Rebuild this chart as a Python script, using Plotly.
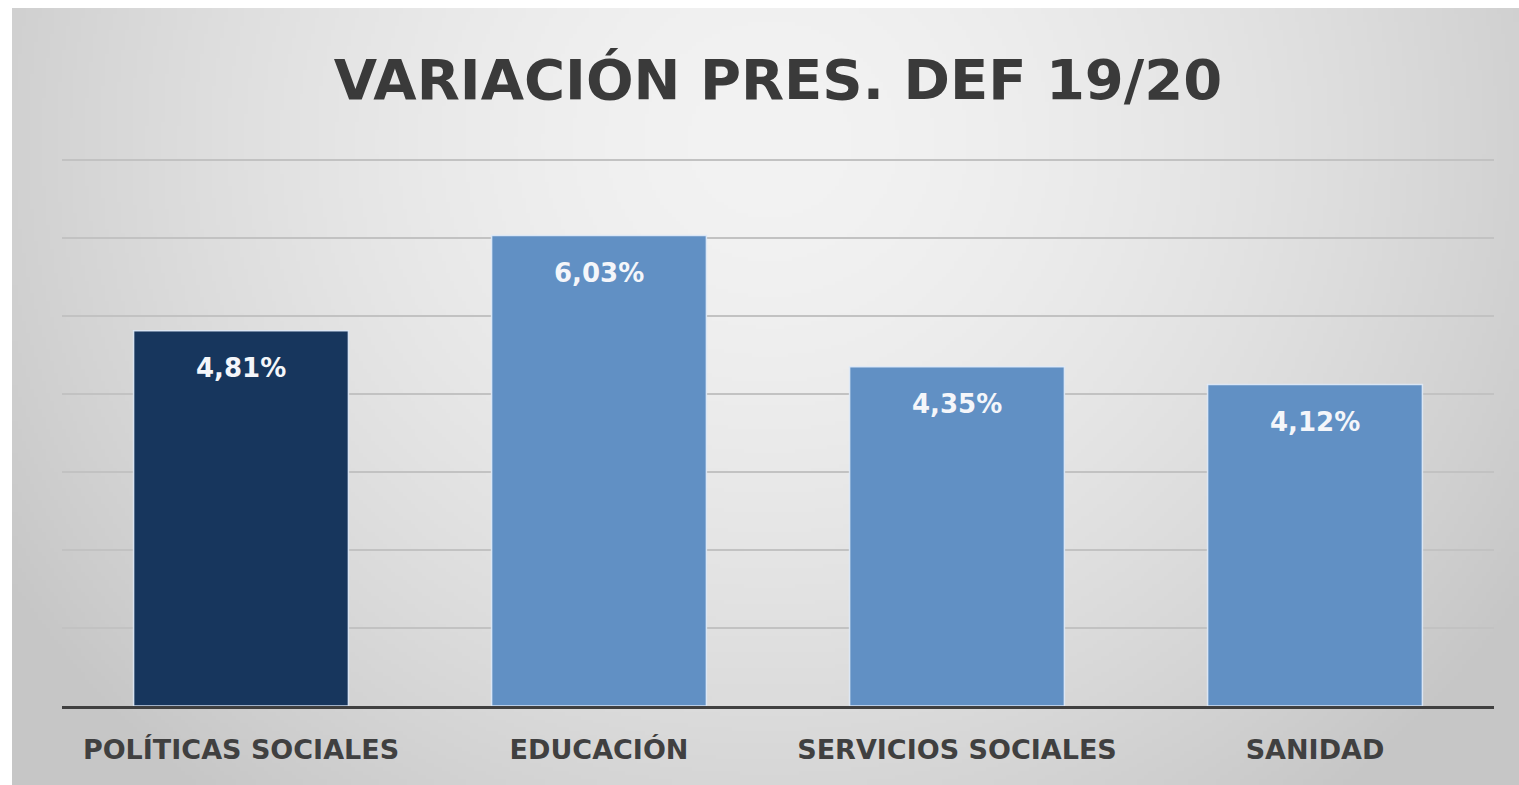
import base64, struct, zlib
import numpy as np
import plotly.graph_objects as go

# ---- data ----
categories = ["POLÍTICAS SOCIALES", "EDUCACIÓN", "SERVICIOS SOCIALES", "SANIDAD"]
values = [4.81, 6.03, 4.35, 4.12]
labels = ["4,81%", "6,03%", "4,35%", "4,12%"]
bar_colors = ["#17365d", "#6190c4", "#6190c4", "#6190c4"]
title_text = "VARIACIÓN PRES. DEF 19/20"

# ---- canvas geometry ----
W, H = 1519, 785
Y_MAX = 7.05
ML, MR, MT, MB = 62, 25, 156, 79
PW, PH = W - ML - MR, H - MT - MB
BG_X0, BG_Y0 = 12, 8
FONT = "DejaVu Sans"


def make_png(arr):
    h, w, _ = arr.shape
    raw = b"".join(b"\x00" + arr[i].tobytes() for i in range(h))
    def chunk(tag, data):
        c = struct.pack(">I", len(data)) + tag + data
        return c + struct.pack(">I", zlib.crc32(tag + data) & 0xffffffff)
    png = b"\x89PNG\r\n\x1a\n"
    png += chunk(b"IHDR", struct.pack(">IIBBBBB", w, h, 8, 2, 0, 0, 0))
    png += chunk(b"IDAT", zlib.compress(raw, 9))
    png += chunk(b"IEND", b"")
    return "data:image/png;base64," + base64.b64encode(png).decode()


# radial gray gradient background
gw, gh = 380, 195
bw, bh = W - BG_X0, H - BG_Y0
xs = np.linspace(BG_X0, W, gw)
ys = np.linspace(BG_Y0, H, gh)
X, Y = np.meshgrid(xs, ys)
cx, cy, rx, ry = 770, 140, 760, 720
d = np.sqrt(((X - cx) / rx) ** 2 + ((Y - cy) / ry) ** 2)
v = np.clip(243 - 34 * d ** 1.6, 198, 245).astype(np.uint8)
img = np.stack([v, v, v], axis=-1)
bg_uri = make_png(img)

fig = go.Figure()
fig.add_trace(go.Bar(
    x=categories, y=values,
    marker=dict(color=bar_colors, line=dict(color="rgba(225,235,248,0.9)", width=1.5)),
    hoverinfo="skip",
))

for c, val, lab in zip(categories, values, labels):
    fig.add_annotation(x=c, y=val, text=lab, showarrow=False, yanchor="middle",
                       yshift=-37,
                       font=dict(family=FONT, size=26, color="#f4f6fa", weight="bold"))

fig.update_layout(
    width=W, height=H,
    margin=dict(l=ML, r=MR, t=MT, b=MB, pad=0),
    paper_bgcolor="white", plot_bgcolor="rgba(0,0,0,0)",
    showlegend=False,
    bargap=0.4,
    title=dict(text=title_text, x=(ML + PW / 2) / W, xanchor="center",
               y=1 - 79 / H, yanchor="middle",
               font=dict(family=FONT, size=56, color="#3a3a3a", weight="bold")),
    images=[dict(source=bg_uri, xref="paper", yref="paper",
                 x=(BG_X0 - ML) / PW, y=(H - MB - BG_Y0) / PH,
                 sizex=bw / PW, sizey=bh / PH, xanchor="left", yanchor="top",
                 sizing="stretch", layer="below")],
    xaxis=dict(showgrid=False, showline=True, linecolor="#404040", linewidth=3,
               ticks="", ticklabelstandoff=18,
               tickfont=dict(family=FONT, size=27, color="#404040", weight="bold")),
    yaxis=dict(range=[0, Y_MAX], dtick=1, showgrid=True, gridcolor="#c2c2c2", gridwidth=2,
               zeroline=False, showticklabels=False, showline=False),
)

fig.write_html("out.html", config={"displayModeBar": False},
               post_script="document.body.style.margin='0';document.body.style.overflow='hidden';")
